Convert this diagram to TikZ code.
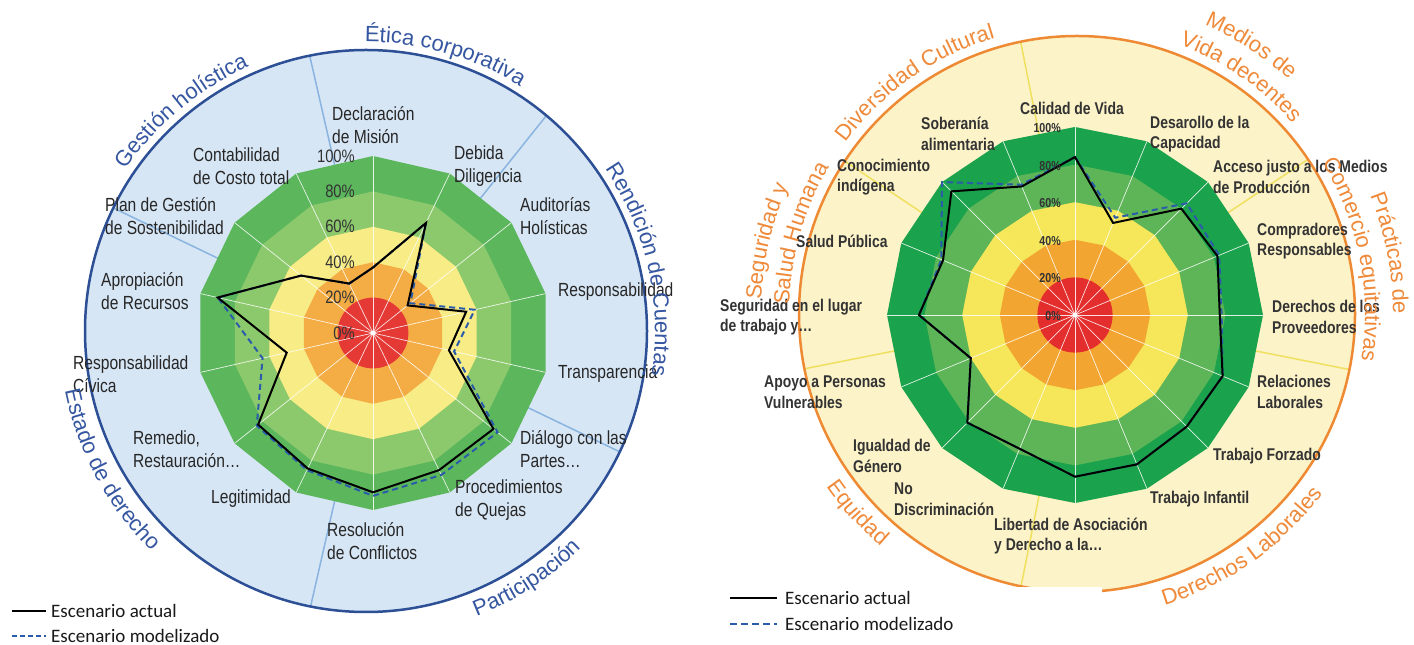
\documentclass[tikz,border=0pt]{standalone}
\usepackage{fontspec}
\setmainfont{Liberation Sans}
\newfontfamily\narrowf[FakeStretch=0.82]{Liberation Sans}
\newfontfamily\legf{Carlito}
\usetikzlibrary{decorations.text}
% left chart colours
\definecolor{bgL}{HTML}{D7E6F5}
\definecolor{ringL}{HTML}{2C4F95}
\definecolor{divL}{HTML}{8AB4E0}
\definecolor{catL}{HTML}{3556A0}
\definecolor{gaL}{HTML}{5BB65C}
\definecolor{gbL}{HTML}{8CC96C}
\definecolor{yeL}{HTML}{F7EC86}
\definecolor{orL}{HTML}{F4AD45}
\definecolor{reL}{HTML}{E53935}
% right chart colours
\definecolor{bgR}{HTML}{FCF3C8}
\definecolor{ringR}{HTML}{EE8A33}
\definecolor{divR}{HTML}{F0E060}
\definecolor{catR}{HTML}{EF8A3A}
\definecolor{gaR}{HTML}{1BA24C}
\definecolor{gbR}{HTML}{5DB558}
\definecolor{yeR}{HTML}{F5E65A}
\definecolor{orR}{HTML}{F2A530}
\definecolor{reR}{HTML}{E42D2D}
\definecolor{dashblue}{HTML}{2A5CAA}
\newcommand\polyfill[3]{\fill[#1] (90:#3) \foreach \k in {1,...,#2} { -- ({90-\k*360/#2}:#3)} -- cycle;}
\newcommand\catLfont{\fontsize{22}{26}\selectfont\color{catL}}
\newcommand\catRfont{\fontsize{22}{26}\selectfont\color{catR}}
\begin{document}
\begin{tikzpicture}[x=1pt,y=1pt,
  spoke/.style={white, line width=0.7pt, opacity=0.85},
  actual/.style={draw=black, line width=2pt, line join=miter},
  model/.style={draw=dashblue, line width=2pt, dash pattern=on 6pt off 4pt},
  lblL/.style={font=\narrowf\fontsize{19}{22.5}\selectfont, text=black!85, align=left, anchor=west, inner sep=0pt},
  lblR/.style={font=\narrowf\bfseries\fontsize{17}{20.5}\selectfont, text=black!80, align=left, anchor=west, inner sep=0pt},
  pctL/.style={font=\narrowf\fontsize{18}{20}\selectfont, text=black!80, anchor=east, inner sep=0pt},
  pctR/.style={font=\narrowf\bfseries\fontsize{13}{15}\selectfont, text=black!80, anchor=east, inner sep=0pt},
  leg/.style={font=\legf\fontsize{19}{22}\selectfont, text=black!90, anchor=west, inner sep=0pt},
  cwtext/.style={decorate, decoration={text along path, text align=center, text={#1}}},
]
\useasboundingbox (0,0) rectangle (1414,645);
\fill[white] (0,0) rectangle (1414,645);

%================ LEFT CHART =================
\coordinate (LC) at (373,312);
\coordinate (LK) at (366,314);
\fill[bgL] (LK) circle[radius=281];
\begin{scope}
  \clip (LK) circle[radius=281];
  \foreach \a in {102.857,51.429,-25.714,-102.857,154.286}
    \draw[divL, line width=1.5pt] (LC) -- ++(\a:330);
\end{scope}
\draw[ringL, line width=2.5pt] (LK) circle[radius=281];

\begin{scope}[shift={(LC)}]
  \polyfill{gaL}{14}{177}
  \polyfill{gbL}{14}{141.6}
  \polyfill{yeL}{14}{106.2}
  \polyfill{orL}{14}{70.8}
  \fill[reL] (0,0) circle[radius=35.4];
  \foreach \k in {0,...,13} \draw[spoke] (0,0) -- ({90-\k*360/14}:177);
  \fill[white] (0,0) circle[radius=2.5];
  \foreach \v [count=\i from 0] in {37,69,27,59,47,90,89,92,86,84,64,90,52,31}
    \coordinate (LM\i) at ({90-\i*360/14}:{\v*1.77});
  \foreach \v [count=\i from 0] in {37,69,25,54,44,87,86,90,85,83,50,90,52,31}
    \coordinate (LA\i) at ({90-\i*360/14}:{\v*1.77});
\end{scope}
\draw[model] (LM0) -- (LM1) -- (LM2) -- (LM3) -- (LM4) -- (LM5) -- (LM6) -- (LM7) -- (LM8) -- (LM9) -- (LM10) -- (LM11) -- (LM12) -- (LM13) -- cycle;
\draw[actual] (LA0) -- (LA1) -- (LA2) -- (LA3) -- (LA4) -- (LA5) -- (LA6) -- (LA7) -- (LA8) -- (LA9) -- (LA10) -- (LA11) -- (LA12) -- (LA13) -- cycle;

\foreach \k/\t in {0/0\%,1/20\%,2/40\%,3/60\%,4/80\%,5/100\%}
  \node[pctL] (pL\k) at (355,{312+\k*35.4}) {\t};

\node[lblL] (l0) at (332,520) {Declaración\\de Misión};
\node[lblL] (l1) at (454,479) {Debida\\Diligencia};
\node[lblL] (l2) at (520,429) {Auditorías\\Holísticas};
\node[lblL] (l3) at (558,353) {Responsabilidad};
\node[lblL] (l4) at (558,271) {Transparencia};
\node[lblL] (l5) at (520,196) {Diálogo con las\\Partes…};
\node[lblL] (l6) at (455,145) {Procedimientos\\de Quejas};
\node[lblL] (l7) at (327,104) {Resolución\\de Conflictos};
\node[lblL] (l8) at (211,146) {Legitimidad};
\node[lblL] (l9) at (133,196) {Remedio,\\Restauración…};
\node[lblL] (l10) at (73,271) {Responsabilidad\\Cívica};
\node[lblL] (l11) at (101,354) {Apropiación\\de Recursos};
\node[lblL] (l12) at (105,429) {Plan de Gestión\\de Sostenibilidad};
\node[lblL] (l13) at (193,479) {Contabilidad\\de Costo total};

\begin{scope}[shift={(LK)}]
  \path[cwtext={|\catLfont|Gestión holística}] (190:289) arc[start angle=190, end angle=70, radius=289];
  \path[cwtext={|\catLfont|Ética corporativa}] (134:289) arc[start angle=134, end angle=14, radius=289];
  \path[cwtext={|\catLfont|Rendición de Cuentas}] (72.7:289) arc[start angle=72.7, end angle=-47.3, radius=289];
  \path[cwtext={|\catLfont|Participación}] (-117:306) arc[start angle=-117, end angle=3, radius=306];
  \path[cwtext={|\catLfont|Estado de derecho}] (-211.5:307) arc[start angle=-211.5, end angle=-91.5, radius=307];
\end{scope}

%================ RIGHT CHART =================
\coordinate (RC) at (1075,330);
\coordinate (RK) at (1077,331);
\fill[bgR] (RK) circle[radius=278];
\begin{scope}
  \clip (RK) circle[radius=278];
  \foreach \a in {101.25,33.75,-11.25,-101.25,-168.75,146.25}
    \draw[divR, line width=1.5pt] (RC) -- ++(\a:330);
\end{scope}
\draw[ringR, line width=2.5pt] (RK) circle[radius=278];

\begin{scope}[shift={(RC)}]
  \polyfill{gaR}{16}{188}
  \polyfill{gbR}{16}{150.4}
  \polyfill{yeR}{16}{112.8}
  \polyfill{orR}{16}{75.2}
  \fill[reR] (0,0) circle[radius=37.6];
  \foreach \k in {0,...,15} \draw[spoke] (0,0) -- ({90-\k*22.5}:188);
  \fill[white] (0,0) circle[radius=2.5];
  \foreach \v [count=\i from 0] in {84,56,84,83,78,85,84,86,86,77,81,60,83,77,100,75}
    \coordinate (RM\i) at ({90-\i*22.5}:{\v*1.88});
  \foreach \v [count=\i from 0] in {84,53,80,82,77,85,84,86,86,77,81,60,83,76,93,74}
    \coordinate (RA\i) at ({90-\i*22.5}:{\v*1.88});
\end{scope}
\draw[model] (RM0) -- (RM1) -- (RM2) -- (RM3) -- (RM4) -- (RM5) -- (RM6) -- (RM7) -- (RM8) -- (RM9) -- (RM10) -- (RM11) -- (RM12) -- (RM13) -- (RM14) -- (RM15) -- cycle;
\draw[actual] (RA0) -- (RA1) -- (RA2) -- (RA3) -- (RA4) -- (RA5) -- (RA6) -- (RA7) -- (RA8) -- (RA9) -- (RA10) -- (RA11) -- (RA12) -- (RA13) -- (RA14) -- (RA15) -- cycle;

\foreach \k/\t in {0/0\%,1/20\%,2/40\%,3/60\%,4/80\%,5/100\%}
  \node[pctR] (pR\k) at (1061,{329+\k*37.6}) {\t};

\node[lblR] (r0) at (1020,537) {Calidad de Vida};
\node[lblR] (r1) at (1150,511) {Desarollo de la\\Capacidad};
\node[lblR] (r2) at (1213,468) {Acceso justo a los Medios\\de Producción};
\node[lblR] (r3) at (1257,404) {Compradores\\Responsables};
\node[lblR] (r4) at (1272,328) {Derechos de los\\Proveedores};
\node[lblR] (r5) at (1257,253) {Relaciones\\Laborales};
\node[lblR] (r6) at (1213,189) {Trabajo Forzado};
\node[lblR] (r7) at (1150,146) {Trabajo Infantil};
\node[lblR] (r8) at (994,109) {Libertad de Asociación\\y Derecho a la…};
\node[lblR] (r9) at (894,146) {No\\Discriminación};
\node[lblR] (r10) at (853,189) {Igualdad de\\Género};
\node[lblR] (r11) at (764,253) {Apoyo a Personas\\Vulnerables};
\node[lblR] (r12) at (720,328) {Seguridad en el lugar\\de trabajo y…};
\node[lblR] (r13) at (796,404) {Salud Pública};
\node[lblR] (r14) at (837,468) {Conocimiento\\indígena};
\node[lblR] (r15) at (921,511) {Soberanía\\alimentaria};

\begin{scope}[shift={(RK)}]
  \path[cwtext={|\catRfont|Diversidad Cultural}] (185:288) arc[start angle=185, end angle=65, radius=288];
  \path[cwtext={|\catRfont|Medios de}] (117:316) arc[start angle=117, end angle=-3, radius=316];
  \path[cwtext={|\catRfont|Vida decentes}] (115.3:288) arc[start angle=115.3, end angle=-4.7, radius=288];
  \path[cwtext={|\catRfont|Prácticas de}] (71:316) arc[start angle=71, end angle=-49, radius=316];
  \path[cwtext={|\catRfont|Comercio equitativas}] (71.2:288) arc[start angle=71.2, end angle=-48.8, radius=288];
  \path[cwtext={|\catRfont|Derechos Laborales}] (-114.7:304) arc[start angle=-114.7, end angle=5.3, radius=304];
  \path[cwtext={|\catRfont|Equidad}] (-197.8:304) arc[start angle=-197.8, end angle=-77.8, radius=304];
  \path[cwtext={|\catRfont|Seguridad y}] (226.8:316) arc[start angle=226.8, end angle=106.8, radius=316];
  \path[cwtext={|\catRfont|Salud Humana}] (223.7:288) arc[start angle=223.7, end angle=103.7, radius=288];
\end{scope}

% white legend box hiding the bottom of the right ring
\fill[white] (985,0) rectangle (1102,58);

%================ LEGENDS =================
\coordinate (la1) at (12,34);  \coordinate (la2) at (46,34);
\coordinate (lb1) at (12,9);   \coordinate (lb2) at (46,9);
\draw[actual] (la1) -- (la2);
\draw[model, dash pattern=on 5pt off 3pt] (lb1) -- (lb2);
\node[leg] (legL1) at (51,34) {Escenario actual};
\node[leg] (legL2) at (51,9) {Escenario modelizado};

\coordinate (ra1) at (730,47);  \coordinate (ra2) at (777,47);
\coordinate (rb1) at (730,21);  \coordinate (rb2) at (777,21);
\draw[actual] (ra1) -- (ra2);
\draw[model, dash pattern=on 7pt off 4pt] (rb1) -- (rb2);
\node[leg] (legR1) at (785,47) {Escenario actual};
\node[leg] (legR2) at (785,21) {Escenario modelizado};
\end{tikzpicture}
\end{document}
